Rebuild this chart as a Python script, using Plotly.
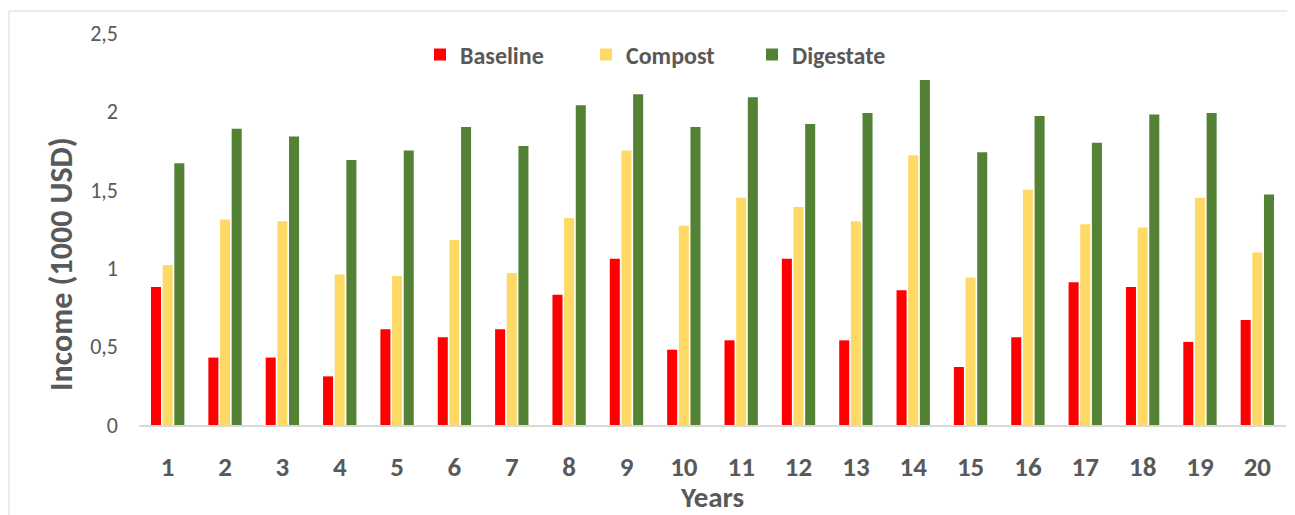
import plotly.graph_objects as go

years = [str(i) for i in range(1, 21)]
baseline = [0.88, 0.43, 0.43, 0.31, 0.61, 0.56, 0.61, 0.83, 1.06, 0.48,
            0.54, 1.06, 0.54, 0.86, 0.37, 0.56, 0.91, 0.88, 0.53, 0.67]
compost = [1.02, 1.31, 1.30, 0.96, 0.95, 1.18, 0.97, 1.32, 1.75, 1.27,
           1.45, 1.39, 1.30, 1.72, 0.94, 1.50, 1.28, 1.26, 1.45, 1.10]
digestate = [1.67, 1.89, 1.84, 1.69, 1.75, 1.90, 1.78, 2.04, 2.11, 1.90,
             2.09, 1.92, 1.99, 2.20, 1.74, 1.97, 1.80, 1.98, 1.99, 1.47]
ytick_vals = [0, 0.5, 1, 1.5, 2, 2.5]
ytick_text = ["0", "0,5", "1", "1,5", "2", "2,5"]

FONT = "Carlito, Calibri, Lato, sans-serif"
GREY = "#595959"

fig = go.Figure()
for name, vals, col in [("Baseline", baseline, "#FF0000"),
                        ("Compost", compost, "#FFD966"),
                        ("Digestate", digestate, "#548235")]:
    fig.add_trace(go.Bar(x=years, y=vals, name=name, marker_color=col,
                         marker_line_width=0))

# page has an 8px body margin; positions below are page pixels
OFF = 8
W, H = 1295 - OFF, 515 - OFF
L, R, T, B = 139 - OFF, 9, 33 - OFF, 90
pw = W - L - R
ph = H - T - B

def px_x(p):
    return (p - 139) / pw

def px_y(p):
    return (425 - p) / ph

fig.update_layout(
    width=W, height=H, autosize=False,
    margin=dict(l=L, r=R, t=T, b=B),
    plot_bgcolor="white", paper_bgcolor="white",
    barmode="group", bargap=0.39, bargroupgap=0.14,
    font=dict(family=FONT, color=GREY),
    legend=dict(orientation="h", x=px_x(420), xanchor="left",
                y=px_y(55), yanchor="middle",
                entrywidth=121, entrywidthmode="pixels",
                font=dict(size=24, weight="bold", color=GREY, family=FONT),
                bgcolor="rgba(0,0,0,0)"),
    xaxis=dict(showline=True, linecolor="#d9d9d9", linewidth=1.5,
               showgrid=False, ticks="", ticklabelstandoff=17, automargin=False,
               tickfont=dict(size=27, weight="bold", color=GREY, family=FONT),
               title=dict(text="Years", standoff=13,
                          font=dict(size=29, weight="bold", color=GREY, family=FONT))),
    yaxis=dict(range=[0, 2.5], showgrid=False, zeroline=False, showline=False,
               tickvals=ytick_vals, ticktext=ytick_text, ticklabelstandoff=20,
               automargin=False,
               tickfont=dict(size=22, color=GREY, family=FONT)),
    annotations=[dict(text="Income (1000 USD)", textangle=-90, showarrow=False,
                      xref="paper", yref="paper", x=px_x(61), y=px_y(264),
                      xanchor="center", yanchor="middle",
                      font=dict(size=32, weight="bold", color=GREY, family=FONT))],
    shapes=[dict(type="rect", xref="paper", yref="paper",
                 x0=px_x(9), x1=px_x(1293), y0=px_y(530), y1=px_y(11),
                 line=dict(color="#d9d9d9", width=1), layer="below")],
)

fig.write_html("out.html")
